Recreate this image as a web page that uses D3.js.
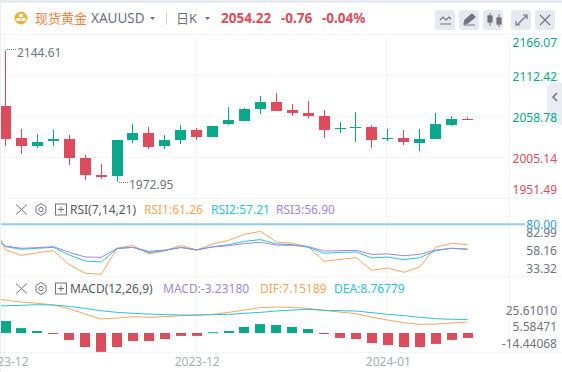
<!DOCTYPE html>
<html>
<head>
<meta charset="utf-8">
<style>
  html, body { margin: 0; padding: 0; background: #fff; overflow: hidden; }
  text { font-family: "Noto Sans", "Noto Sans CJK SC", sans-serif; }
  .domain { display: none; }
</style>
<script src="https://cdn.jsdelivr.net/npm/d3@7"></script>
</head>
<body>
<div id="chart"></div>
<script>
// Candles
const opens = [2072.0, 2030.1, 2019.6, 2026.2, 2028.8, 2003.9, 1981.6, 1980.3, 2027.5, 2036.6, 2019.6, 2027.5, 2040.6, 2031.4, 2048.4, 2052.4, 2068.1, 2077.2, 2066.8, 2062.8, 2058.9, 2041.9, 2043.2, 2044.5, 2028.8, 2030.1, 2023.5, 2028.8, 2047.1, 2055.0]
const closes = [2028.8, 2019.6, 2024.9, 2028.8, 2003.9, 1981.6, 1979.0, 2027.5, 2036.6, 2018.3, 2027.5, 2040.6, 2031.4, 2045.8, 2053.7, 2068.1, 2077.2, 2065.5, 2062.8, 2058.9, 2040.6, 2043.2, 2044.5, 2027.5, 2030.1, 2024.9, 2028.8, 2048.4, 2055.0, 2054.22]
const highs = [2144.61, 2041.9, 2035.3, 2040.6, 2034.0, 2007.8, 1996.0, 2027.5, 2048.4, 2044.5, 2034.0, 2047.1, 2043.2, 2045.8, 2070.7, 2069.4, 2085.1, 2089.0, 2074.6, 2078.6, 2066.8, 2051.0, 2064.2, 2047.1, 2041.9, 2040.6, 2041.9, 2062.8, 2058.9, 2057.2]
const lows = [2019.6, 2009.1, 2017.0, 2019.6, 1994.7, 1975.1, 1976.4, 1972.95, 2023.5, 2015.7, 2015.7, 2022.2, 2027.5, 2031.4, 2047.1, 2052.4, 2061.5, 2065.5, 2058.9, 2056.3, 2030.1, 2036.6, 2024.9, 2017.0, 2026.2, 2020.9, 2013.1, 2028.8, 2045.8, 2054.22]

// Indicator lines start one candle before the left edge (index -1)
const rsi1 = [87.6, 56.3, 51.4, 53.9, 55.7, 42.8, 34.9, 33.9, 57.9, 60.6, 52.7, 55.7, 60.6, 56.3, 61.9, 65.2, 70.8, 73.5, 63.7, 62.5, 59.4, 45.9, 47.7, 49.3, 37.6, 39.8, 35.8, 40.7, 58.8, 62.5, 61.26]
const rsi2 = [72.6, 59.4, 57.0, 57.9, 58.8, 51.7, 46.2, 45.3, 57.6, 58.8, 53.9, 55.7, 58.8, 56.3, 59.4, 61.2, 64.3, 65.9, 61.9, 61.2, 58.8, 53.3, 54.2, 54.5, 49.0, 49.9, 47.4, 49.3, 55.7, 57.9, 57.21]
const rsi3 = [71.1, 60.0, 57.9, 58.5, 59.4, 54.2, 49.9, 49.6, 57.9, 58.8, 55.1, 56.3, 58.5, 56.6, 59.1, 60.3, 62.2, 63.4, 60.9, 60.6, 59.4, 55.4, 55.7, 56.0, 52.3, 52.7, 51.1, 52.3, 56.3, 57.9, 56.90]
const dif = [22.9, 21.4, 20.1, 19.3, 18.2, 15.8, 12.3, 9.1, 9.7, 10.6, 10.2, 10.6, 11.3, 11.5, 12.1, 13.4, 14.9, 16.5, 16.9, 16.7, 16.0, 14.7, 13.6, 12.6, 10.2, 8.4, 6.7, 5.6, 5.8, 6.5, 7.15]
const dea = [17.5, 17.7, 18.0, 18.4, 18.2, 17.3, 16.0, 14.5, 13.4, 12.8, 12.3, 11.9, 11.7, 11.7, 11.9, 12.1, 12.8, 13.4, 14.3, 14.9, 15.4, 14.7, 14.5, 14.3, 13.2, 12.1, 11.3, 10.2, 9.3, 8.9, 8.77]
const macdBars = [7.8, 3.2, 1.3, -0.4, -4.5, -9.1, -12.3, -9.1, -5.2, -5.2, -3.9, -1.9, -1.9, 0.5, 1.3, 3.9, 5.8, 5.2, 3.9, 2.6, -0.4, -3.2, -3.9, -6.5, -7.8, -9.1, -9.1, -7.1, -4.5, -3.23]

// Tick labels
const priceTicks = [2166.07, 2112.42, 2058.78, 2005.14, 1951.49]
const rsiTicks = ['82.99', '58.16', '33.32']
const macdTicks = ['25.61010', '5.58471', '-14.44068']
const dateTickIdx = [0, 12, 24]
const dateTicks = ['2023-12', '2023-12', '2024-01']

const RED = '#dc4c5c'
const GREEN = '#0aa88a'
const ORANGE = '#f9a55c'
const CYAN = '#2cc2dc'
const PURPLE = '#a286e2'
const GRID = '#f3f4f8'
const GREY = '#70747f'

const width = 562
const height = 372
const svg = d3.select('#chart').append('svg')
  .attr('width', width)
  .attr('height', height)
  .style('display', 'block')

svg.append('defs').append('clipPath').attr('id', 'plot')
  .append('rect').attr('x', 1).attr('y', 34).attr('width', 508).attr('height', 320)

// Outer card
svg.append('rect').attr('width', width).attr('height', 3).attr('fill', '#e8ebf1')
svg.append('rect').attr('y', 3).attr('width', 1).attr('height', height - 3).attr('fill', '#eceef4')

const x = d3.scaleLinear().domain([0, 29]).range([5.57, 467.5])
const y = d3.scaleLinear().domain([1951.49, 2166.07]).range([198, 34.2])
const yRsi = d3.scaleLinear().domain([33.32, 80]).range([275, 224.3])
const yMacd = d3.scaleLinear().domain([-14.44068, 25.6101]).range([355.2, 293.6])
const crisp = v => Math.floor(v) + 0.5

// Grid
const grid = svg.append('g').attr('stroke', GRID).attr('stroke-width', 1)
dateTickIdx.forEach(i => {
  grid.append('line').attr('x1', crisp(x(i) - 1)).attr('x2', crisp(x(i) - 1)).attr('y1', 34).attr('y2', 352)
})
priceTicks.slice(1).forEach(p => {
  grid.append('line').attr('x1', 1).attr('x2', 510).attr('y1', crisp(y(p))).attr('y2', crisp(y(p)))
})
;[34, 198, 276, 352].forEach(v => {
  grid.append('line').attr('x1', 1).attr('x2', width).attr('y1', v + 0.5).attr('y2', v + 0.5)
})
grid.append('line').attr('x1', 509.5).attr('x2', 509.5).attr('y1', 34).attr('y2', 352)

// Candles
const candles = svg.append('g').attr('clip-path', 'url(#plot)')
  .selectAll('g')
  .data(d3.range(opens.length))
  .join('g')
  .attr('fill', i => closes[i] >= opens[i] ? GREEN : RED)
  .attr('stroke', i => closes[i] >= opens[i] ? GREEN : RED)

candles.append('line')
  .attr('x1', i => crisp(x(i)))
  .attr('x2', i => crisp(x(i)))
  .attr('y1', i => y(highs[i]))
  .attr('y2', i => y(lows[i]))

candles.append('rect')
  .attr('stroke', 'none')
  .attr('x', i => Math.round(x(i) - 5.5))
  .attr('width', 11)
  .attr('y', i => y(Math.max(opens[i], closes[i])))
  .attr('height', i => Math.max(1, Math.abs(y(opens[i]) - y(closes[i]))))

// High and low markers
const markers = svg.append('g').attr('fill', GREY).attr('font-size', 12)
markers.append('text').attr('x', 17).attr('y', 57).text(d3.format('.2f')(d3.max(highs)))
markers.append('text').attr('x', 129).attr('y', 189).text(d3.format('.2f')(d3.min(lows)))
const dots = svg.append('g').attr('stroke', GREY).attr('stroke-dasharray', '1 1').attr('fill', 'none')
dots.append('line').attr('x1', 7).attr('x2', 16).attr('y1', 49.5).attr('y2', 49.5)
dots.append('line').attr('x1', 119).attr('x2', 128).attr('y1', 182.5).attr('y2', 182.5)

// Price axis
const priceAxis = svg.append('g')
  .call(d3.axisRight(y).tickValues(priceTicks).tickSize(0).tickFormat(d3.format('.2f')))
priceAxis.selectAll('.tick')
  .attr('transform', d => `translate(0, ${Math.min(190, Math.max(43.5, y(d) + 2))})`)
priceAxis.selectAll('text')
  .attr('x', 557)
  .attr('text-anchor', 'end')
  .attr('font-size', 12)
  .attr('font-family', 'Noto Sans')
  .attr('fill', d => d > closes[closes.length - 1] ? GREEN : RED)

// RSI pane
const rsiLine = d3.line().x((d, i) => x(i - 1)).y(d => yRsi(d))
const rsiG = svg.append('g').attr('clip-path', 'url(#plot)').attr('fill', 'none').attr('stroke-width', 1)
rsiG.append('path').attr('d', rsiLine(rsi1)).attr('stroke', ORANGE)
rsiG.append('path').attr('d', rsiLine(rsi2)).attr('stroke', CYAN)
rsiG.append('path').attr('d', rsiLine(rsi3)).attr('stroke', PURPLE)

svg.append('line')
  .attr('x1', 1).attr('x2', 525)
  .attr('y1', yRsi(80)).attr('y2', yRsi(80))
  .attr('stroke', '#90caf5').attr('stroke-width', 2)

const rsiLabelY = d3.scalePoint().domain(rsiTicks).range([232.5, 268.5])
svg.append('g').selectAll('text').data(rsiTicks).join('text')
  .attr('x', 557).attr('y', d => rsiLabelY(d))
  .attr('dy', '0.36em')
  .attr('text-anchor', 'end')
  .attr('font-size', 12)
  .attr('fill', GREY)
  .text(d => d)
svg.append('text').attr('x', 557).attr('y', yRsi(80) + 4.5)
  .attr('text-anchor', 'end').attr('font-size', 12).attr('fill', '#2f9df0').text('80.00')

// MACD pane
const macdG = svg.append('g').attr('clip-path', 'url(#plot)')
macdG.selectAll('rect').data(macdBars).join('rect')
  .attr('x', (d, i) => Math.round(x(i) - 5))
  .attr('width', 10)
  .attr('y', d => yMacd(Math.max(0, d)))
  .attr('height', d => Math.max(1, Math.abs(yMacd(d) - yMacd(0))))
  .attr('fill', d => d >= 0 ? GREEN : RED)

const macdLine = d3.line().x((d, i) => x(i - 1)).y(d => yMacd(d))
macdG.append('path').attr('d', macdLine(dif)).attr('fill', 'none').attr('stroke', ORANGE)
macdG.append('path').attr('d', macdLine(dea)).attr('fill', 'none').attr('stroke', CYAN)

const macdLabelY = d3.scalePoint().domain(macdTicks).range([310.5, 343.5])
svg.append('g').selectAll('text').data(macdTicks).join('text')
  .attr('x', 557).attr('y', d => macdLabelY(d))
  .attr('dy', '0.36em')
  .attr('text-anchor', 'end')
  .attr('font-size', 12)
  .attr('fill', GREY)
  .text(d => d)

// Date axis
const dateAxis = svg.append('g')
  .attr('transform', 'translate(0, 352)')
  .call(d3.axisBottom(x).tickValues(dateTickIdx).tickSize(0).tickFormat((d, i) => dateTicks[i]))
dateAxis.selectAll('text')
  .attr('y', 5)
  .attr('font-size', 12)
  .attr('font-family', 'Noto Sans')
  .attr('fill', '#a9adb9')

// Pane legends
function paneIcons (cy) {
  const g = svg.append('g').attr('fill', 'none').attr('stroke', '#6f7480').attr('stroke-width', 1)
  g.append('path').attr('d', `M16 ${cy - 5}L27 ${cy + 5}M27 ${cy - 5}L16 ${cy + 5}`)
  g.append('path').attr('d', `M41 ${cy - 6}l5 3v6l-5 3 -5 -3v-6z`)
  g.append('circle').attr('cx', 41).attr('cy', cy).attr('r', 2.2)
  g.append('rect').attr('x', 55.5).attr('y', cy - 5.5).attr('width', 11).attr('height', 11)
  g.append('path').attr('d', `M58 ${cy}H64M61 ${cy - 3}V${cy + 3}`)
}
function legendText (px, py, color, str) {
  svg.append('text').attr('x', px).attr('y', py).attr('font-size', 12).attr('fill', color).text(str)
}
paneIcons(209.5)
legendText(70, 214, '#555963', 'RSI(7,14,21)')
legendText(144, 214, ORANGE, 'RSI1:61.26')
legendText(211, 214, CYAN, 'RSI2:57.21')
legendText(276, 214, PURPLE, 'RSI3:56.90')
paneIcons(288.5)
legendText(70, 293, '#555963', 'MACD(12,26,9)')
legendText(163, 293, PURPLE, 'MACD:-3.23180')
legendText(260, 293, ORANGE, 'DIF:7.15189')
legendText(334, 293, CYAN, 'DEA:8.76779')

// Header
svg.append('circle').attr('cx', 21).attr('cy', 18).attr('r', 6.5).attr('fill', '#f0b23f')
svg.append('path').attr('d', 'M19 14h4v3h-4zM16.5 18h4v3h-4zM21.5 18h4v3h-4z').attr('fill', '#fff')
svg.append('text').attr('x', 35).attr('y', 22.5).attr('font-size', 13)
  .attr('font-family', 'Noto Sans CJK SC').attr('fill', '#f57f42').text('现货黄金')
svg.append('text').attr('x', 91).attr('y', 23).attr('font-size', 13.5).attr('fill', '#6c7180').text('XAUUSD')
svg.append('path').attr('d', 'M150 17h5l-2.5 3z').attr('fill', '#6c7180')
svg.append('rect').attr('x', 166).attr('y', 12).attr('width', 1).attr('height', 13).attr('fill', '#ced1d9')
svg.append('text').attr('x', 176).attr('y', 23).attr('font-size', 13)
  .attr('font-family', 'Noto Sans CJK SC').attr('fill', '#6c7180').text('日K')
svg.append('path').attr('d', 'M205 17h5l-2.5 3z').attr('fill', '#6c7180')
svg.append('text').attr('x', 221).attr('y', 22.5).attr('font-size', 13.5).attr('font-weight', 700).attr('fill', RED).text('2054.22')
svg.append('text').attr('x', 281).attr('y', 22.5).attr('font-size', 13.5).attr('font-weight', 700).attr('fill', RED).text('-0.76')
svg.append('text').attr('x', 322).attr('y', 22.5).attr('font-size', 13.5).attr('font-weight', 700).attr('fill', RED).text('-0.04%')

// Toolbar buttons
const buttonX = [435, 459, 483, 511, 535]
svg.append('g').selectAll('rect').data(buttonX).join('rect')
  .attr('x', d => d).attr('y', 10).attr('width', 20).attr('height', 20).attr('rx', 3)
  .attr('fill', '#e6e9f0')
const ic = svg.append('g').attr('fill', 'none').attr('stroke', '#70747f').attr('stroke-width', 1.2)
ic.append('path').attr('d', 'M440 20l3 -3 3 3 3 -3 2 2M440 24h11')
ic.append('path').attr('d', 'M464 24l1 -4 7 -6 3 3 -7 6zM464 25h11').attr('fill', '#70747f')
ic.append('path').attr('d', 'M490 13v13M499 14v13').attr('stroke-width', 1)
ic.append('rect').attr('x', 488).attr('y', 16).attr('width', 4).attr('height', 6).attr('fill', '#70747f')
ic.append('rect').attr('x', 497).attr('y', 18).attr('width', 4).attr('height', 6).attr('fill', '#70747f')
ic.append('path').attr('d', 'M517 25l9 -9M523 15h4v4M516 21v4h4')
ic.append('path').attr('d', 'M540 15l10 10M550 15l-10 10')

// Collapse tab on the right edge
svg.append('path').attr('d', 'M562 83H551L547 87V121L562 125z').attr('fill', '#e9eaf0').attr('opacity', 0.9)
svg.append('path').attr('d', 'M557 93l-4 4 4 4').attr('fill', 'none').attr('stroke', '#6f7480').attr('stroke-width', 1.5)
// Price labels stay on top of the tab
svg.node().appendChild(priceAxis.node())
</script>
</body>
</html>
